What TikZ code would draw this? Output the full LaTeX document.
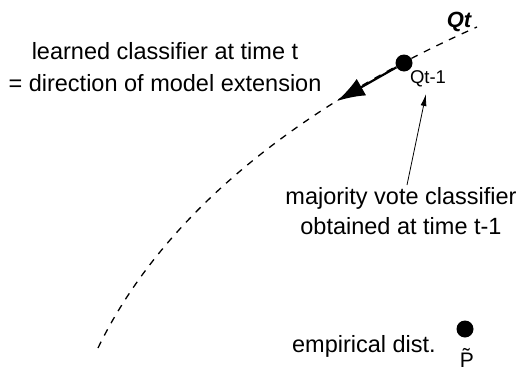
\documentclass[tikz,border=0pt]{standalone}
\usepackage{fontspec}
\setmainfont{Liberation Sans}
\usetikzlibrary{arrows.meta}
\tikzset{
  dot/.style = {circle, fill = black, inner sep = 0pt, minimum size = 17pt},
  txt/.style = {font = \fontsize{23.5}{32}\selectfont, align = center, inner sep = 0pt},
  model/.style = {dash pattern = on 7pt off 7pt, line width = 1.3pt}
}
\begin{document}
\begin{tikzpicture}[x = 1pt, y = -1pt]
\useasboundingbox (0, 0) rectangle (523, 370);
\coordinate (start) at (98, 348);
\coordinate (end) at (477, 27);
\draw[model] (start) .. controls (160, 220) and (290, 110) .. (end);
\node[dot] (qprev) at (404, 63) {};
\coordinate (ext) at (337, 101);
\draw[line width = 2.2pt, -{Latex[length = 28pt, width = 19pt]}] (qprev) -- (ext);
\node[txt, anchor = base, font = \fontsize{22}{24}\selectfont\bfseries\itshape] (qt) at (459, 27) {Qt};
\node[txt, anchor = base, font = \fontsize{18.5}{20}\selectfont] (qlabel) at (428, 83) {Qt-1};
\node[txt] (learned) at (165, 67.5) {learned classifier at time t\\= direction of model extension};
\node[txt, font = \fontsize{23.5}{30}\selectfont] (majority) at (401, 211.5) {majority vote classifier\\obtained at time t-1};
\coordinate (tail) at (407, 185);
\coordinate (head) at (426, 94);
\draw[line width = 0.8pt, -{Latex[length = 12pt, width = 6pt]}] (tail) -- (head);
\node[dot] (ptilde) at (465, 329) {};
\node[txt, anchor = base, font = \fontsize{21}{22}\selectfont] (plabel) at (467, 367) {\~{P}};
\node[txt, anchor = base east] (empirical) at (436, 352) {empirical dist.};
\end{tikzpicture}
\end{document}
